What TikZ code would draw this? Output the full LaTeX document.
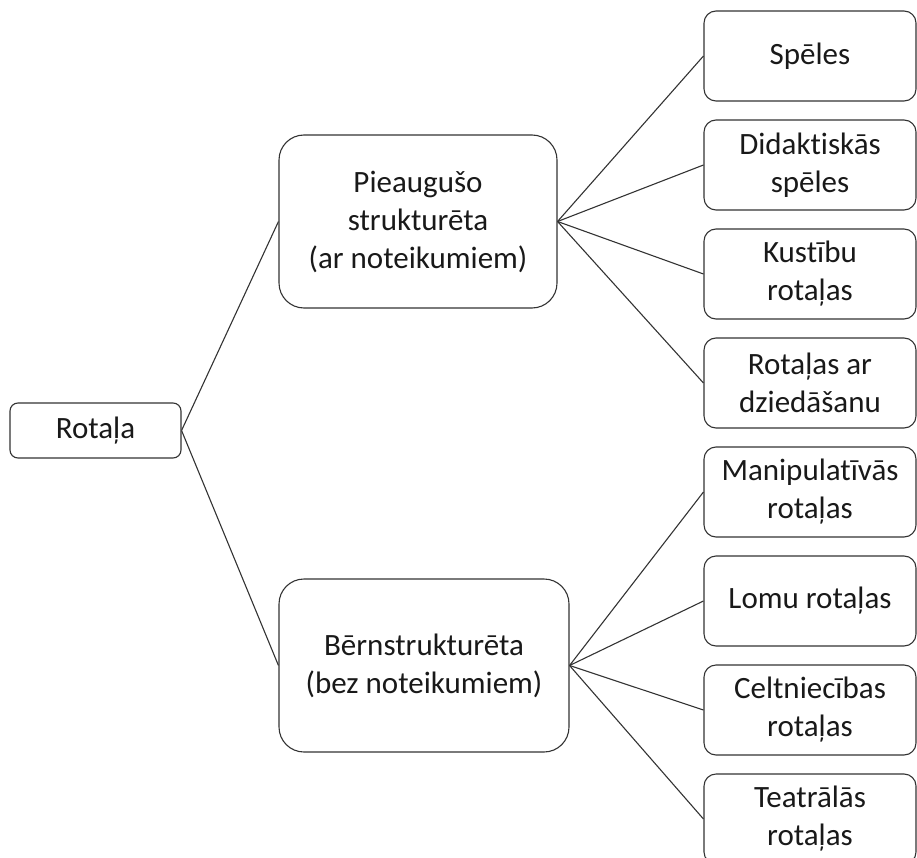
\documentclass[tikz,border=0pt]{standalone}
\usepackage{fontspec}
\setmainfont{Carlito}[Ligatures=NoCommon]

\begin{document}
\begin{tikzpicture}[x=1pt,y=-1pt,line width=1.1pt,draw=black!80,
                    box/.style={draw=black!80,rounded corners=#1,align=center,inner sep=0pt,
                                text=black!90,font=\fontsize{31}{38}\selectfont},
                    box/.default=12pt,
                    leaf/.style={box,minimum width=212pt,minimum height=90pt}]

  \clip (0,0) rectangle (917,858);
  \node[box=8pt,minimum width=171pt,minimum height=55pt] (0) at (95.5,430.5) {Rotaļa};
  \node[box=25pt,minimum width=278pt,minimum height=173pt] (1) at (418,221.5)
    {Pieaugušo\\strukturēta\\(ar noteikumiem)};
  \node[box=25pt,minimum width=290pt,minimum height=173pt] (2) at (424,665.5)
    {Bērnstrukturēta\\(bez noteikumiem)};

  \node[leaf] (3) at (810,56) {Spēles};
  \node[leaf] (4) at (810,165) {Didaktiskās\\spēles};
  \node[leaf] (5) at (810,274) {Kustību\\rotaļas};
  \node[leaf] (6) at (810,383) {Rotaļas ar\\dziedāšanu};
  \node[leaf] (7) at (810,492) {Manipulatīvās\\rotaļas};
  \node[leaf] (8) at (810,601) {Lomu rotaļas};
  \node[leaf] (9) at (810,710) {Celtniecības\\rotaļas};
  \node[leaf] (10) at (810,819) {Teatrālās\\rotaļas};

  \path[draw=black!80]
    (0.east) edge (1.west)
    (0.east) edge (2.west);
  \foreach \n in {3,...,6}
    \draw[black!80] (1.east) -- (\n.west);
  \foreach \n in {7,...,10}
    \draw[black!80] (2.east) -- (\n.west);
\end{tikzpicture}
\end{document}
